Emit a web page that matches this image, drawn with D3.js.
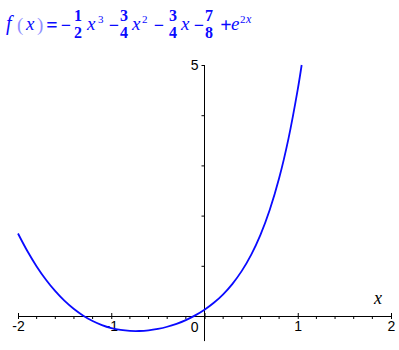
<!DOCTYPE html>
<html>
<head>
<meta charset="utf-8">
<script src="https://cdn.jsdelivr.net/npm/d3@7"></script>
<style>
  body { margin: 0; background: #fff; }
  svg { display: block; }
</style>
</head>
<body>
<div id="chart"></div>
<script>
const xs = [-2.0, -1.9, -1.8, -1.7, -1.6, -1.5, -1.4, -1.3, -1.2, -1.1, -1.0,
            -0.9, -0.8, -0.7, -0.6, -0.5, -0.4, -0.3, -0.2, -0.1, 0.0,
            0.1, 0.2, 0.3, 0.4, 0.5, 0.6, 0.7, 0.8, 0.9, 1.0, 1.042];
const ys = [1.643, 1.294, 0.988, 0.722, 0.494, 0.300, 0.138, 0.005, -0.100, -0.181, -0.240,
            -0.278, -0.297, -0.299, -0.286, -0.257, -0.214, -0.155, -0.081, 0.012, 0.125,
            0.263, 0.433, 0.641, 0.899, 1.218, 1.617, 2.116, 2.742, 3.528, 4.514, 5.0];
const xTicks = [-2, -1, 0, 1, 2];
const xMinor = [-1.8, -1.6, -1.4, -1.2, -0.8, -0.6, -0.4, -0.2, 0.2, 0.4, 0.6, 0.8, 1.2, 1.4, 1.6, 1.8];
const yTicks = [1, 2, 3, 4, 5];
const yLabels = ["5"];

const width = 399, height = 350;
const blue = "#0a0aff";

const svg = d3.select("#chart").append("svg")
    .attr("width", width)
    .attr("height", height);

const x = d3.scaleLinear().domain([-2, 2]).range([18, 391]);
const y = d3.scaleLinear().domain([0, 5]).range([316, 65]);

// title: f(x) = -1/2 x^3 - 3/4 x^2 - 3/4 x - 7/8 + e^(2x)
const title = svg.append("g").attr("fill", blue);
const serif = "'Liberation Serif', 'DejaVu Serif', serif";
function put(txt, px, py, opts) {
    opts = opts || {};
    title.append("text")
        .attr("x", px).attr("y", py)
        .attr("text-anchor", opts.anchor || "start")
        .attr("font-family", opts.family || serif)
        .style("font-size", (opts.size || 15) + "px")
        .attr("font-style", opts.italic ? "italic" : "normal")
        .attr("font-weight", opts.bold ? "bold" : "normal")
        .attr("fill", opts.color || blue)
        .text(txt);
}
put("f", 6, 30, {italic: true, size: 20});
put("(", 17, 31, {size: 19, color: "#9090ff"});
put("x", 26, 30, {italic: true, size: 19});
put(")", 37, 31, {size: 19, color: "#9090ff"});
put("=", 52, 32, {anchor: "middle", size: 20, bold: true});
put("\u2212", 66, 31, {anchor: "middle", size: 18, bold: true});
put("1", 78, 21, {anchor: "middle", size: 16, bold: true});
put("2", 78, 38, {anchor: "middle", size: 16, bold: true});
put("x", 87, 30, {italic: true, size: 19});
put("3", 98, 23, {size: 11});
put("\u2212", 114, 31, {anchor: "middle", size: 18, bold: true});
put("3", 124, 21, {anchor: "middle", size: 16, bold: true});
put("4", 124, 38, {anchor: "middle", size: 16, bold: true});
put("x", 132, 30, {italic: true, size: 19});
put("2", 142, 23, {size: 11});
put("\u2212", 159, 31, {anchor: "middle", size: 18, bold: true});
put("3", 173, 21, {anchor: "middle", size: 16, bold: true});
put("4", 173, 38, {anchor: "middle", size: 16, bold: true});
put("x", 181, 30, {italic: true, size: 19});
put("\u2212", 199, 31, {anchor: "middle", size: 18, bold: true});
put("7", 209, 21, {anchor: "middle", size: 16, bold: true});
put("8", 209, 38, {anchor: "middle", size: 16, bold: true});
put("+", 226, 32, {anchor: "middle", size: 20, bold: true});
put("e", 231, 30, {italic: true, size: 19});
put("2", 240, 23, {size: 11});
put("x", 246, 23, {italic: true, size: 12});

// axes
const axisFont = "'Liberation Sans', Arial, sans-serif";

const xAxis = svg.append("g")
    .attr("transform", `translate(0,${y(0)})`)
    .call(d3.axisBottom(x).tickValues(xTicks).tickSize(4).tickSizeOuter(0));
xAxis.select(".domain").attr("stroke", "#000").attr("stroke-width", 1);
xAxis.selectAll(".tick line").attr("stroke", "#000").attr("y1", -3).attr("y2", 3);
xAxis.selectAll(".tick text")
    .style("font-family", axisFont).style("font-size", "14px")
    .attr("fill", "#000").attr("y", 5).attr("dy", "0.71em")
    .text(d => d === 0 ? "" : (d < 0 ? "-" + Math.abs(d) : String(d)));

svg.append("g")
    .selectAll("line")
    .data(xMinor)
    .join("line")
    .attr("x1", d => x(d)).attr("x2", d => x(d))
    .attr("y1", y(0)).attr("y2", y(0) + 3)
    .attr("stroke", "#000");

const yAxis = svg.append("g")
    .attr("transform", `translate(${x(0)},0)`)
    .call(d3.axisLeft(y).tickValues(yTicks).tickSize(3).tickSizeOuter(0)
        .tickFormat(d => yLabels.includes(String(d)) ? String(d) : ""));
yAxis.select(".domain").remove();
yAxis.selectAll(".tick line").attr("stroke", "#000");
yAxis.selectAll(".tick text")
    .style("font-family", axisFont).style("font-size", "14px")
    .attr("fill", "#000").attr("x", -6).attr("dy", "0.35em");

svg.append("line")
    .attr("x1", x(0)).attr("x2", x(0))
    .attr("y1", y(5)).attr("y2", y(-0.5))
    .attr("stroke", "#000");

// "0" label sits left of the y axis
svg.append("text")
    .attr("x", x(0) - 6).attr("y", y(0) + 16)
    .attr("text-anchor", "end")
    .style("font-family", axisFont).style("font-size", "14px")
    .text("0");

svg.append("text")
    .attr("x", 374).attr("y", 304)
    .style("font-family", serif).attr("font-style", "italic")
    .style("font-size", "18px")
    .text("x");

// curve
const pts = xs.map((v, i) => [v, ys[i]]);
svg.append("path")
    .datum(pts)
    .attr("fill", "none")
    .attr("stroke", blue)
    .attr("stroke-width", 1.8)
    .attr("d", d3.line().x(d => x(d[0])).y(d => y(d[1])).curve(d3.curveCatmullRom));
</script>
</body>
</html>
